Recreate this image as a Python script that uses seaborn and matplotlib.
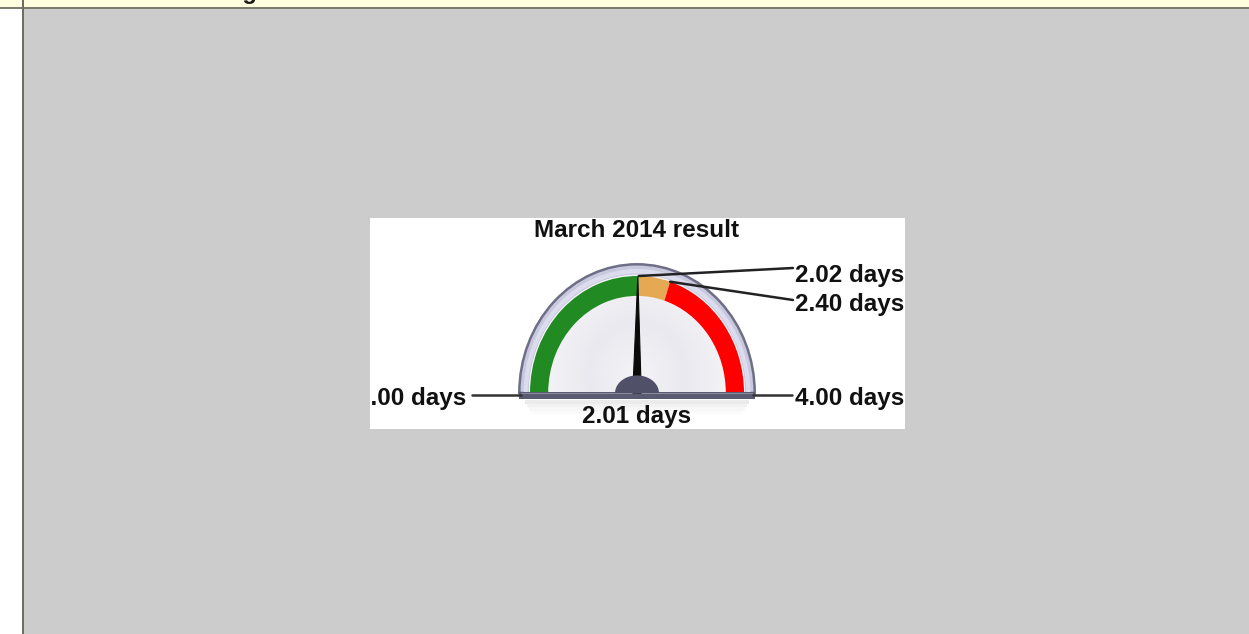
import numpy as np
import matplotlib
matplotlib.use("Agg")
import matplotlib.pyplot as plt
from matplotlib.patches import Wedge, Rectangle, Polygon
import seaborn as sns

# ---------------- data ----------------
title = "March 2014 result"
page_title = "Performance Gauge"
gauge_min = 0.0
gauge_max = 4.0
value = 2.01
thresholds = [2.02, 2.40]
band_colors = ["#228a22", "#e6a953", "#ff0000"]
unit = "days"

# ---------------- style ----------------
sns.set_theme(style="white")
plt.rcParams["font.family"] = ["Liberation Sans", "DejaVu Sans"]

W, H = 1249, 634
fig = plt.figure(figsize=(W / 100, H / 100), dpi=100)
fig.patch.set_facecolor("#cccccc")

def fx(px):
    return px / W

def fy(py):
    return 1 - py / H

# page chrome
fig.patches.append(Rectangle((0, fy(8)), 1, 8 / H, transform=fig.transFigure,
                             facecolor="#ffffe0", edgecolor="none", zorder=0))
fig.patches.append(Rectangle((0, fy(9)), 1, 2 / H, transform=fig.transFigure,
                             facecolor="#7c7c6c", edgecolor="none", zorder=1))
fig.patches.append(Rectangle((0, 0), fx(22), fy(9), transform=fig.transFigure,
                             facecolor="#ffffff", edgecolor="none", zorder=0))
fig.patches.append(Rectangle((fx(22), 0), 2 / W, 1, transform=fig.transFigure,
                             facecolor="#6e6e66", edgecolor="none", zorder=1))
fig.text(fx(45), fy(-1.2), page_title, fontsize=17, fontweight="bold",
         color="#1a1a1a", ha="left", va="baseline")

# gauge panel (pixel box 370..905 x 218..429, centre at 637,393)
cx, cy = 637, 393
sx, sy = 107.0, 117.0           # pixels per data unit
ax = fig.add_axes([fx(370), fy(429), 535 / W, 211 / H])
ax.set_facecolor("white")
ax.set_xlim((370 - cx) / sx, (905 - cx) / sx)
ax.set_ylim((cy - 429) / sy, (cy - 218) / sy)
ax.set_axis_off()
ax.add_patch(Rectangle((0, 0), 1, 1, transform=ax.transAxes, facecolor="white",
                       edgecolor="none", zorder=0))

def ang(v):
    return 180.0 - (v - gauge_min) / (gauge_max - gauge_min) * 180.0

# shadow under gauge
for i, a in enumerate([0.08, 0.05, 0.03, 0.015]):
    ax.add_patch(Rectangle((-1.05 + i * 0.02, -0.06 - 0.03 * (i + 1)),
                           2.10 - i * 0.04, 0.03, facecolor="#000000",
                           alpha=a, edgecolor="none", zorder=1))

# bezel
ax.add_patch(Wedge((0, 0), 1.10, 0, 180, facecolor="#c8c8de",
                   edgecolor="#6e6e86", lw=1.8, zorder=2))
ax.add_patch(Wedge((0, 0), 1.06, 0, 180, width=0.04, facecolor="#dcdcee",
                   edgecolor="none", zorder=2))

# face with soft radial gradient
face = Wedge((0, 0), 1.01, 0, 180, facecolor="white", edgecolor="none", zorder=3)
ax.add_patch(face)
gx, gy = np.meshgrid(np.linspace(-1.1, 1.1, 300), np.linspace(0, 1.1, 150))
rr = np.sqrt(gx ** 2 + (gy - 0.15) ** 2)
grad = np.clip(1 - np.abs(rr - 0.45) * 1.2, 0, 1)
img = ax.imshow(grad, extent=(-1.1, 1.1, 0, 1.1), origin="lower",
                cmap=matplotlib.colors.LinearSegmentedColormap.from_list(
                    "f", ["#ffffff", "#e9e9ef"]),
                aspect="auto", zorder=3.5, interpolation="bilinear")
img.set_clip_path(face)

# bands
edges = [gauge_min] + thresholds + [gauge_max]
for lo, hi, col in zip(edges[:-1], edges[1:], band_colors):
    ax.add_patch(Wedge((0, 0), 1.0, ang(hi), ang(lo), width=0.17,
                       facecolor=col, edgecolor="none", zorder=4))

# bottom bar
ax.add_patch(Rectangle((-1.10, -0.055), 2.20, 0.06, facecolor="#5a5a70",
                       edgecolor="none", zorder=5))
ax.add_patch(Rectangle((-1.08, -0.01), 2.16, 0.012, facecolor="#8a8aa0",
                       edgecolor="none", zorder=5))

# needle
t = np.deg2rad(ang(value))
tip = (0.99 * np.cos(t), 0.99 * np.sin(t))
px_, py_ = -np.sin(t), np.cos(t)
bw = 0.04
ax.add_patch(Polygon([(bw * px_, bw * py_ * 0.9), tip, (-bw * px_, -bw * py_ * 0.9)],
                     closed=True, facecolor="#0a0a0a", edgecolor="#0a0a0a",
                     lw=0.8, zorder=6))
# hub (slightly flattened half disc)
th = np.linspace(0, np.pi, 60)
ax.add_patch(Polygon(np.column_stack([0.205 * np.cos(th), 0.15 * np.sin(th)]),
                     closed=True, facecolor="#505068", edgecolor="none", zorder=7))

# labels and leader lines
fs = 17.5
txt_kw = dict(fontsize=fs, fontweight="bold", color="#111111", zorder=8)

lab_x = (795 - cx) / sx
line_end_x = (793 - cx) / sx
lab_y = [(cy - 275) / sy, (cy - 305) / sy]
end_y = [(cy - 268) / sy, (cy - 300) / sy]
for thr, ly, ey in zip(thresholds, lab_y, end_y):
    a = np.deg2rad(ang(thr))
    x0, y0 = np.cos(a), np.sin(a)
    sns.lineplot(x=[x0, line_end_x], y=[y0, ey], ax=ax, color="#222222",
                 lw=1.8, zorder=8, sort=False, estimator=None)
    ax.text(lab_x, ly, f"{thr:.2f} {unit}", ha="left", va="center", **txt_kw)

# min / max labels
base_y = (cy - 395) / sy
ax.plot([(472 - cx) / sx, (521 - cx) / sx], [base_y, base_y], color="#333333", lw=1.8, zorder=8)
ax.plot([(753 - cx) / sx, (792 - cx) / sx], [base_y, base_y], color="#333333", lw=1.8, zorder=8)
t_min = ax.text((466 - cx) / sx, (cy - 398) / sy, f"{gauge_min:.2f} {unit}",
                ha="right", va="center", **txt_kw)
t_min.set_clip_on(True)
ax.text(lab_x, (cy - 398) / sy, f"{gauge_max:.2f} {unit}", ha="left",
        va="center", **txt_kw)

# value label
ax.text(0, (cy - 416) / sy, f"{value:.2f} {unit}", ha="center", va="center", **txt_kw)
# title
ax.text((636 - cx) / sx, (cy - 230) / sy, title, ha="center", va="center", **txt_kw)

ax.set_xlim((370 - cx) / sx, (905 - cx) / sx)
ax.set_ylim((cy - 429) / sy, (cy - 218) / sy)
if ax.get_legend() is not None:
    ax.get_legend().remove()

fig.savefig("out.png", dpi=100, facecolor=fig.get_facecolor())
